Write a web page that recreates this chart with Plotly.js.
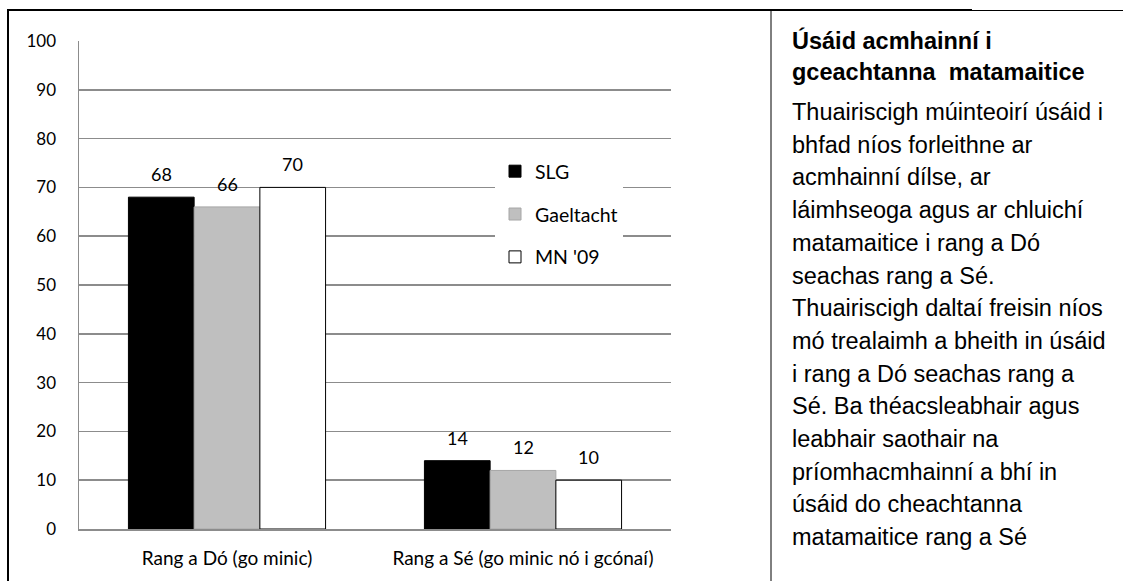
<!DOCTYPE html>
<html>
<head>
<meta charset="utf-8">
<script src="https://cdn.plot.ly/plotly-3.0.1.min.js"></script>
<style>html,body{margin:0;padding:0;background:#fff;}#chart{width:1123px;height:581px;}</style>
</head>
<body>
<div id="chart"></div>
<script>
// ---- data ----
const categories = ["Rang a Dó (go minic)", "Rang a Sé (go minic nó i gcónaí)"];
const seriesNames = ["SLG", "Gaeltacht", "MN '09"];
const slgValues = [68, 14];
const gaeltachtValues = [66, 12];
const mn09Values = [70, 10];
const yTickValues = [0, 10, 20, 30, 40, 50, 60, 70, 80, 90, 100];
const panelTitleLines = ["Úsáid acmhainní i", "gceachtanna&nbsp;&nbsp;matamaitice"];
const panelBodyLines = [
  "Thuairiscigh múinteoirí úsáid i",
  "bhfad níos forleithne ar",
  "acmhainní dílse, ar",
  "láimhseoga agus ar chluichí",
  "matamaitice i rang a Dó",
  "seachas rang a Sé.",
  "Thuairiscigh daltaí freisin níos",
  "mó trealaimh a bheith in úsáid",
  "i rang a Dó seachas rang a",
  "Sé. Ba théacsleabhair agus",
  "leabhair saothair na",
  "príomhacmhainní a bhí in",
  "úsáid do cheachtanna",
  "matamaitice rang a Sé"
];

// ---- layout geometry ----
const W = 1123, H = 581;
const M = {l: 79, r: 452, t: 41, b: 52};
const PW = W - M.l - M.r, PH = H - M.t - M.b;
const px2x = px => (px - M.l) / PW;
const px2y = py => (H - M.b - py) / PH;

const chartFont = "Lato, 'Open Sans', sans-serif";
const panelFont = "'Liberation Sans', Arial, sans-serif";
const bargap = 0.334;

const allValues = [slgValues, gaeltachtValues, mn09Values];
const fills = ["#000000", "#bfbfbf", "#ffffff"];
const outlines = ["#000000", "#a6a6a6", "#000000"];

const traces = allValues.map((vals, j) => ({
  type: "bar",
  name: seriesNames[j],
  x: categories,
  y: vals,
  marker: {color: fills[j], line: {color: outlines[j], width: 1}},
  legendgroup: "g" + j,
  hoverinfo: "skip"
}));

// data labels above each bar (positions on the category axis)
const nS = allValues.length;
const bw = (1 - bargap) / nS;
const annotations = [];
allValues.forEach((vals, j) => {
  vals.forEach((v, i) => {
    annotations.push({
      x: i + (j - (nS - 1) / 2) * bw, y: v, xref: "x", yref: "y",
      text: String(v), showarrow: false, yanchor: "bottom", yshift: 10,
      font: {family: chartFont, size: 18, color: "#000"}
    });
  });
});

// right text panel
const panelX = px2x(790);
const panelSize = 23.5;
panelTitleLines.forEach((t, k) => {
  annotations.push({
    xref: "paper", yref: "paper", x: panelX, y: px2y(40 + k * 32),
    xanchor: "left", yanchor: "middle", showarrow: false, align: "left",
    text: "<b>" + t + "</b>",
    font: {family: panelFont, size: panelSize, color: "#000"}
  });
});
panelBodyLines.forEach((t, k) => {
  annotations.push({
    xref: "paper", yref: "paper", x: panelX, y: px2y(112 + k * 32.7),
    xanchor: "left", yanchor: "middle", showarrow: false, align: "left",
    text: t,
    font: {family: panelFont, size: panelSize, color: "#000"}
  });
});

const shapes = [
  {type: "line", xref: "paper", yref: "paper", x0: px2x(8), x1: px2x(8), y0: px2y(10), y1: px2y(H + 2), line: {color: "#000", width: 2}},
  {type: "line", xref: "paper", yref: "paper", x0: px2x(7), x1: px2x(972), y0: px2y(10), y1: px2y(10), line: {color: "#000", width: 2}},
  {type: "line", xref: "paper", yref: "paper", x0: px2x(972), x1: px2x(W + 2), y0: px2y(10.5), y1: px2y(10.5), line: {color: "#000", width: 1}},
  {type: "line", xref: "paper", yref: "paper", x0: px2x(771), x1: px2x(771), y0: px2y(10), y1: px2y(H + 2), line: {color: "#000", width: 1}}
];

const layout = {
  width: W, height: H,
  margin: M,
  paper_bgcolor: "#ffffff", plot_bgcolor: "#ffffff",
  barmode: "group", bargap: bargap, bargroupgap: 0,
  showlegend: true,
  legend: {
    x: px2x(495), y: px2y(152), xanchor: "left", yanchor: "top",
    bgcolor: "#ffffff", borderwidth: 0,
    traceorder: "grouped", tracegroupgap: 14.5,
    font: {family: chartFont, size: 19.5, color: "#000"}
  },
  xaxis: {
    type: "category", showgrid: false, showline: true, linecolor: "#8c8c8c", linewidth: 1.5,
    ticks: "", ticklabelstandoff: 12, zeroline: false,
    tickfont: {family: chartFont, size: 19, color: "#000"}
  },
  yaxis: {
    range: [0, 100], tickvals: yTickValues, ticktext: yTickValues.map(String),
    showgrid: true, gridcolor: "#8c8c8c", gridwidth: 1.5,
    showline: true, linecolor: "#8c8c8c", linewidth: 1.5, zeroline: false,
    ticks: "", ticklabelstandoff: 18,
    tickfont: {family: chartFont, size: 17, color: "#000"}
  },
  annotations: annotations,
  shapes: shapes,
  hovermode: false
};

Plotly.newPlot("chart", traces, layout, {displayModeBar: false, staticPlot: true});
</script>
</body>
</html>
